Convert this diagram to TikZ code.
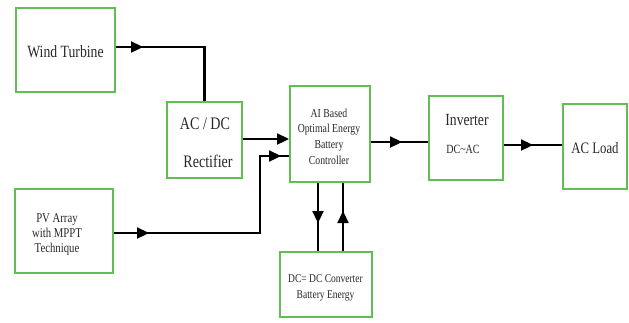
\documentclass[tikz,border=0pt]{standalone}
\usepackage{fontspec}
\setmainfont{Liberation Serif}
\usetikzlibrary{arrows.meta,decorations.markings}
\definecolor{boxgreen}{RGB}{96,190,82}
\definecolor{txtgray}{RGB}{40,40,40}
\tikzset{
  blk/.style={draw=boxgreen, line width=2pt, fill=white, inner sep=0pt},
  conn/.style={draw=black, line width=2.3pt},
  tipat/.style={postaction={decorate,decoration={markings,
      mark=at position #1 with {\arrow{Triangle[length=12pt,width=11pt]}}}}},
  lbl/.style={text=txtgray, align=center, inner sep=0pt, xscale=0.88, yscale=1.1, transform shape},
}
\newcommand{\fsz}[2]{\fontsize{#1}{#2}\selectfont}
\begin{document}
\begin{tikzpicture}[x=1pt,y=-1pt]
\useasboundingbox[fill=white] (0,0) rectangle (629,322);
% boxes
\node[blk, minimum width=99pt, minimum height=84pt] (wt) at (65.5,50) {};
\node[blk, minimum width=75pt, minimum height=76pt] (rect) at (204.5,140) {};
\node[blk, minimum width=80pt, minimum height=96pt] (ai) at (330,134) {};
\node[blk, minimum width=74pt, minimum height=84pt] (inv) at (466,138) {};
\node[blk, minimum width=64pt, minimum height=85pt] (load) at (595,146.5) {};
\node[blk, minimum width=98pt, minimum height=84pt] (pv) at (64,231) {};
\node[blk, minimum width=92pt, minimum height=65pt] (dc) at (326,284.5) {};
% texts
\node[lbl, font=\fsz{15.6}{18}] (t1) at (65.5,52) {Wind Turbine};
\node[lbl, font=\fsz{16}{18}] (t2a) at (205,124) {AC / DC};
\node[lbl, font=\fsz{16}{18}] (t2b) at (208,161) {Rectifier};
\node[lbl, font=\fsz{11.1}{14.3}] (t3) at (329,136.5) {AI Based\\Optimal Energy\\Battery\\Controller};
\node[lbl, font=\fsz{15.5}{18}] (t4a) at (467,120) {Inverter};
\node[lbl, font=\fsz{11.4}{14}] (t4b) at (463,149) {DC\textasciitilde AC};
\node[lbl, font=\fsz{14.5}{17}] (t5) at (595,148) {AC Load};
\node[lbl, font=\fsz{12.2}{14}] (t6) at (57,234.5) {PV Array\\with MPPT\\Technique};
\node[lbl, font=\fsz{10.8}{14.6}] (t7) at (325.5,288) {DC= DC Converter\\Battery Energy};
% connectors
\path (wt.east) ++(0,-3) coordinate (w1);
\draw[conn, tipat=27pt] (w1) -| (rect.north);
\draw[conn, -{Triangle[length=12pt,width=11pt]}] (rect.east) ++(0,-1) coordinate (r1) (r1) -- (r1 -| ai.west);
\path (pv.east) ++(0,2) coordinate (p1);
\coordinate (j) at (260,156);
\draw[conn, tipat=35pt, tipat=244pt] (p1) -| (j) -- (j -| ai.west);
\path (ai.east) ++(0,8) coordinate (a1);
\draw[conn, tipat=31pt] (a1) -- (a1 -| inv.west);
\path (inv.east) ++(0,7) coordinate (i1);
\draw[conn, tipat=29pt] (i1) -- (i1 -| load.west);
\path (ai.south) ++(-12,0) coordinate (d1);
\draw[conn, tipat=40pt] (d1) -- (d1 |- dc.north);
\path (dc.north) ++(17,0) coordinate (u1);
\draw[conn, tipat=40pt] (u1) -- (u1 |- ai.south);
\end{tikzpicture}
\end{document}
